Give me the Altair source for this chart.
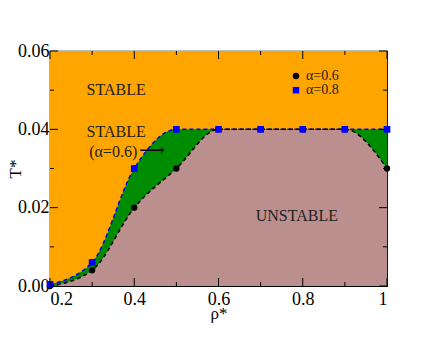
import altair as alt
import pandas as pd

# ---- data ----
rho = [0.2, 0.3, 0.4, 0.5, 0.6, 0.7, 0.8, 0.9, 1.0]
t_alpha06 = [0.0, 0.004, 0.020, 0.030, 0.040, 0.040, 0.040, 0.040, 0.030]
t_alpha08 = [0.0004, 0.006, 0.030, 0.040, 0.040, 0.040, 0.040, 0.040, 0.040]

x_major = [0.2, 0.4, 0.6, 0.8, 1.0]
x_minor = [0.3, 0.5, 0.7, 0.9]
y_major = [0.0, 0.02, 0.04, 0.06]
y_minor = [0.01, 0.03, 0.05]

region_labels = ["STABLE", "STABLE", "(α=0.6)", "UNSTABLE"]
region_x = [0.357, 0.357, 0.35, 0.786]
region_y = [0.050, 0.0392, 0.0342, 0.0179]

legend_labels = ["α=0.6", "α=0.8"]
legend_x = [0.784, 0.784]
legend_y = [0.0536, 0.0500]

W, H = 337, 235
FONT = "Liberation Serif"

df = pd.DataFrame({"rho": rho, "a06": t_alpha06, "a08": t_alpha08})
xs = alt.Scale(domain=[0.2, 1.0], nice=False, zero=False)
ys = alt.Scale(domain=[0.0, 0.06], nice=False)

X = alt.X("rho:Q", scale=xs, title="ρ*",
          axis=alt.Axis(values=x_major, ticks=False, grid=False, domain=False,
                        labelExpr="datum.value == 1 ? '1' : format(datum.value, '.1f')",
                        labelPadding=4, labelFont=FONT, labelFontSize=18, labelColor="black",
                        titleFont=FONT, titleFontSize=17, titleFontWeight="normal",
                        titleColor="black", titleBaseline="middle", titleY=27))
Y06 = alt.Y("a06:Q", scale=ys, title="T*",
            axis=alt.Axis(values=y_major, ticks=False, grid=False, domain=False,
                          format=".2f", labelPadding=1, labelFont=FONT, labelFontSize=18,
                          labelColor="black", titleFont=FONT, titleFontSize=17,
                          titleFontWeight="normal", titleColor="black",
                          titleBaseline="middle", titleX=-35, titleY=H / 2))

bg = alt.Chart(pd.DataFrame({"k": [0]})).mark_rect(color="#ffa500").encode(
    x=alt.value(0), x2=alt.value(W), y=alt.value(0), y2=alt.value(H))

base = alt.Chart(df)
area08 = base.mark_area(interpolate="monotone", color="#008c00").encode(
    x=X, y=alt.Y("a08:Q", scale=ys))
area06 = base.mark_area(interpolate="monotone", color="#bc8f8f").encode(x=X, y=Y06)
line08 = base.mark_line(interpolate="monotone", color="#0000ff", strokeDash=[4, 3],
                        strokeWidth=1.5).encode(x=X, y=alt.Y("a08:Q", scale=ys))
line06 = base.mark_line(interpolate="monotone", color="black", strokeDash=[4, 3],
                        strokeWidth=1.5).encode(x=X, y=Y06)
pts06 = base.mark_point(shape="circle", filled=True, color="black", size=40, opacity=1).encode(
    x=X, y=Y06)
pts08 = base.mark_point(shape="square", filled=True, color="#0000ff", size=45, opacity=1).encode(
    x=X, y=alt.Y("a08:Q", scale=ys))

reg = pd.DataFrame({"t": region_labels, "x": region_x, "y": region_y})
texts = alt.Chart(reg).mark_text(font=FONT, fontSize=16, color="#222", align="center",
                                 baseline="middle").encode(
    x=alt.X("x:Q", scale=xs), y=alt.Y("y:Q", scale=ys), text="t:N")
arrow = alt.Chart(pd.DataFrame({"x": [0.442], "y": [0.0345]})).mark_text(
    text="⟶", font="DejaVu Serif", fontSize=18, color="black").encode(
    x=alt.X("x:Q", scale=xs), y=alt.Y("y:Q", scale=ys))

leg = pd.DataFrame({"t": legend_labels, "x": legend_x, "y": legend_y,
                    "shape": ["circle", "square"], "c": ["black", "#0000ff"]})
leg_marks = alt.Chart(leg).mark_point(filled=True, size=42, opacity=1).encode(
    x=alt.X("x:Q", scale=xs), y=alt.Y("y:Q", scale=ys),
    shape=alt.Shape("shape:N", scale=None), color=alt.Color("c:N", scale=None))
leg_text = alt.Chart(leg).mark_text(font=FONT, fontSize=14, color="#222", align="left",
                                    dx=10, baseline="middle").encode(
    x=alt.X("x:Q", scale=xs), y=alt.Y("y:Q", scale=ys), text="t:N")

def xticks(vals, length):
    d = pd.DataFrame({"v": vals})
    b = alt.Chart(d).mark_rule(color="black", strokeWidth=1)
    bottom = b.encode(x=alt.X("v:Q", scale=xs), y=alt.value(H), y2=alt.value(H - length))
    top = b.encode(x=alt.X("v:Q", scale=xs), y=alt.value(0), y2=alt.value(length))
    return bottom + top

def yticks(vals, length):
    d = pd.DataFrame({"v": vals})
    b = alt.Chart(d).mark_rule(color="black", strokeWidth=1)
    left = b.encode(y=alt.Y("v:Q", scale=ys), x=alt.value(0), x2=alt.value(length))
    right = b.encode(y=alt.Y("v:Q", scale=ys), x=alt.value(W), x2=alt.value(W - length))
    return left + right

chart = alt.layer(
    bg, area08, area06, line08, line06, pts06, pts08, texts, arrow, leg_marks, leg_text,
    xticks(x_major, 8), xticks(x_minor, 4), yticks(y_major, 8), yticks(y_minor, 4),
).properties(
    width=W, height=H,
    autosize=alt.AutoSizeParams(type="none"),
    padding={"left": 42, "top": 43, "right": 41, "bottom": 43},
).configure_view(
    stroke="black", strokeWidth=1.2
).configure_axis(
    labelFont=FONT, titleFont=FONT
)

chart.save("out.html", embed_options={"renderer": "svg", "actions": False})
